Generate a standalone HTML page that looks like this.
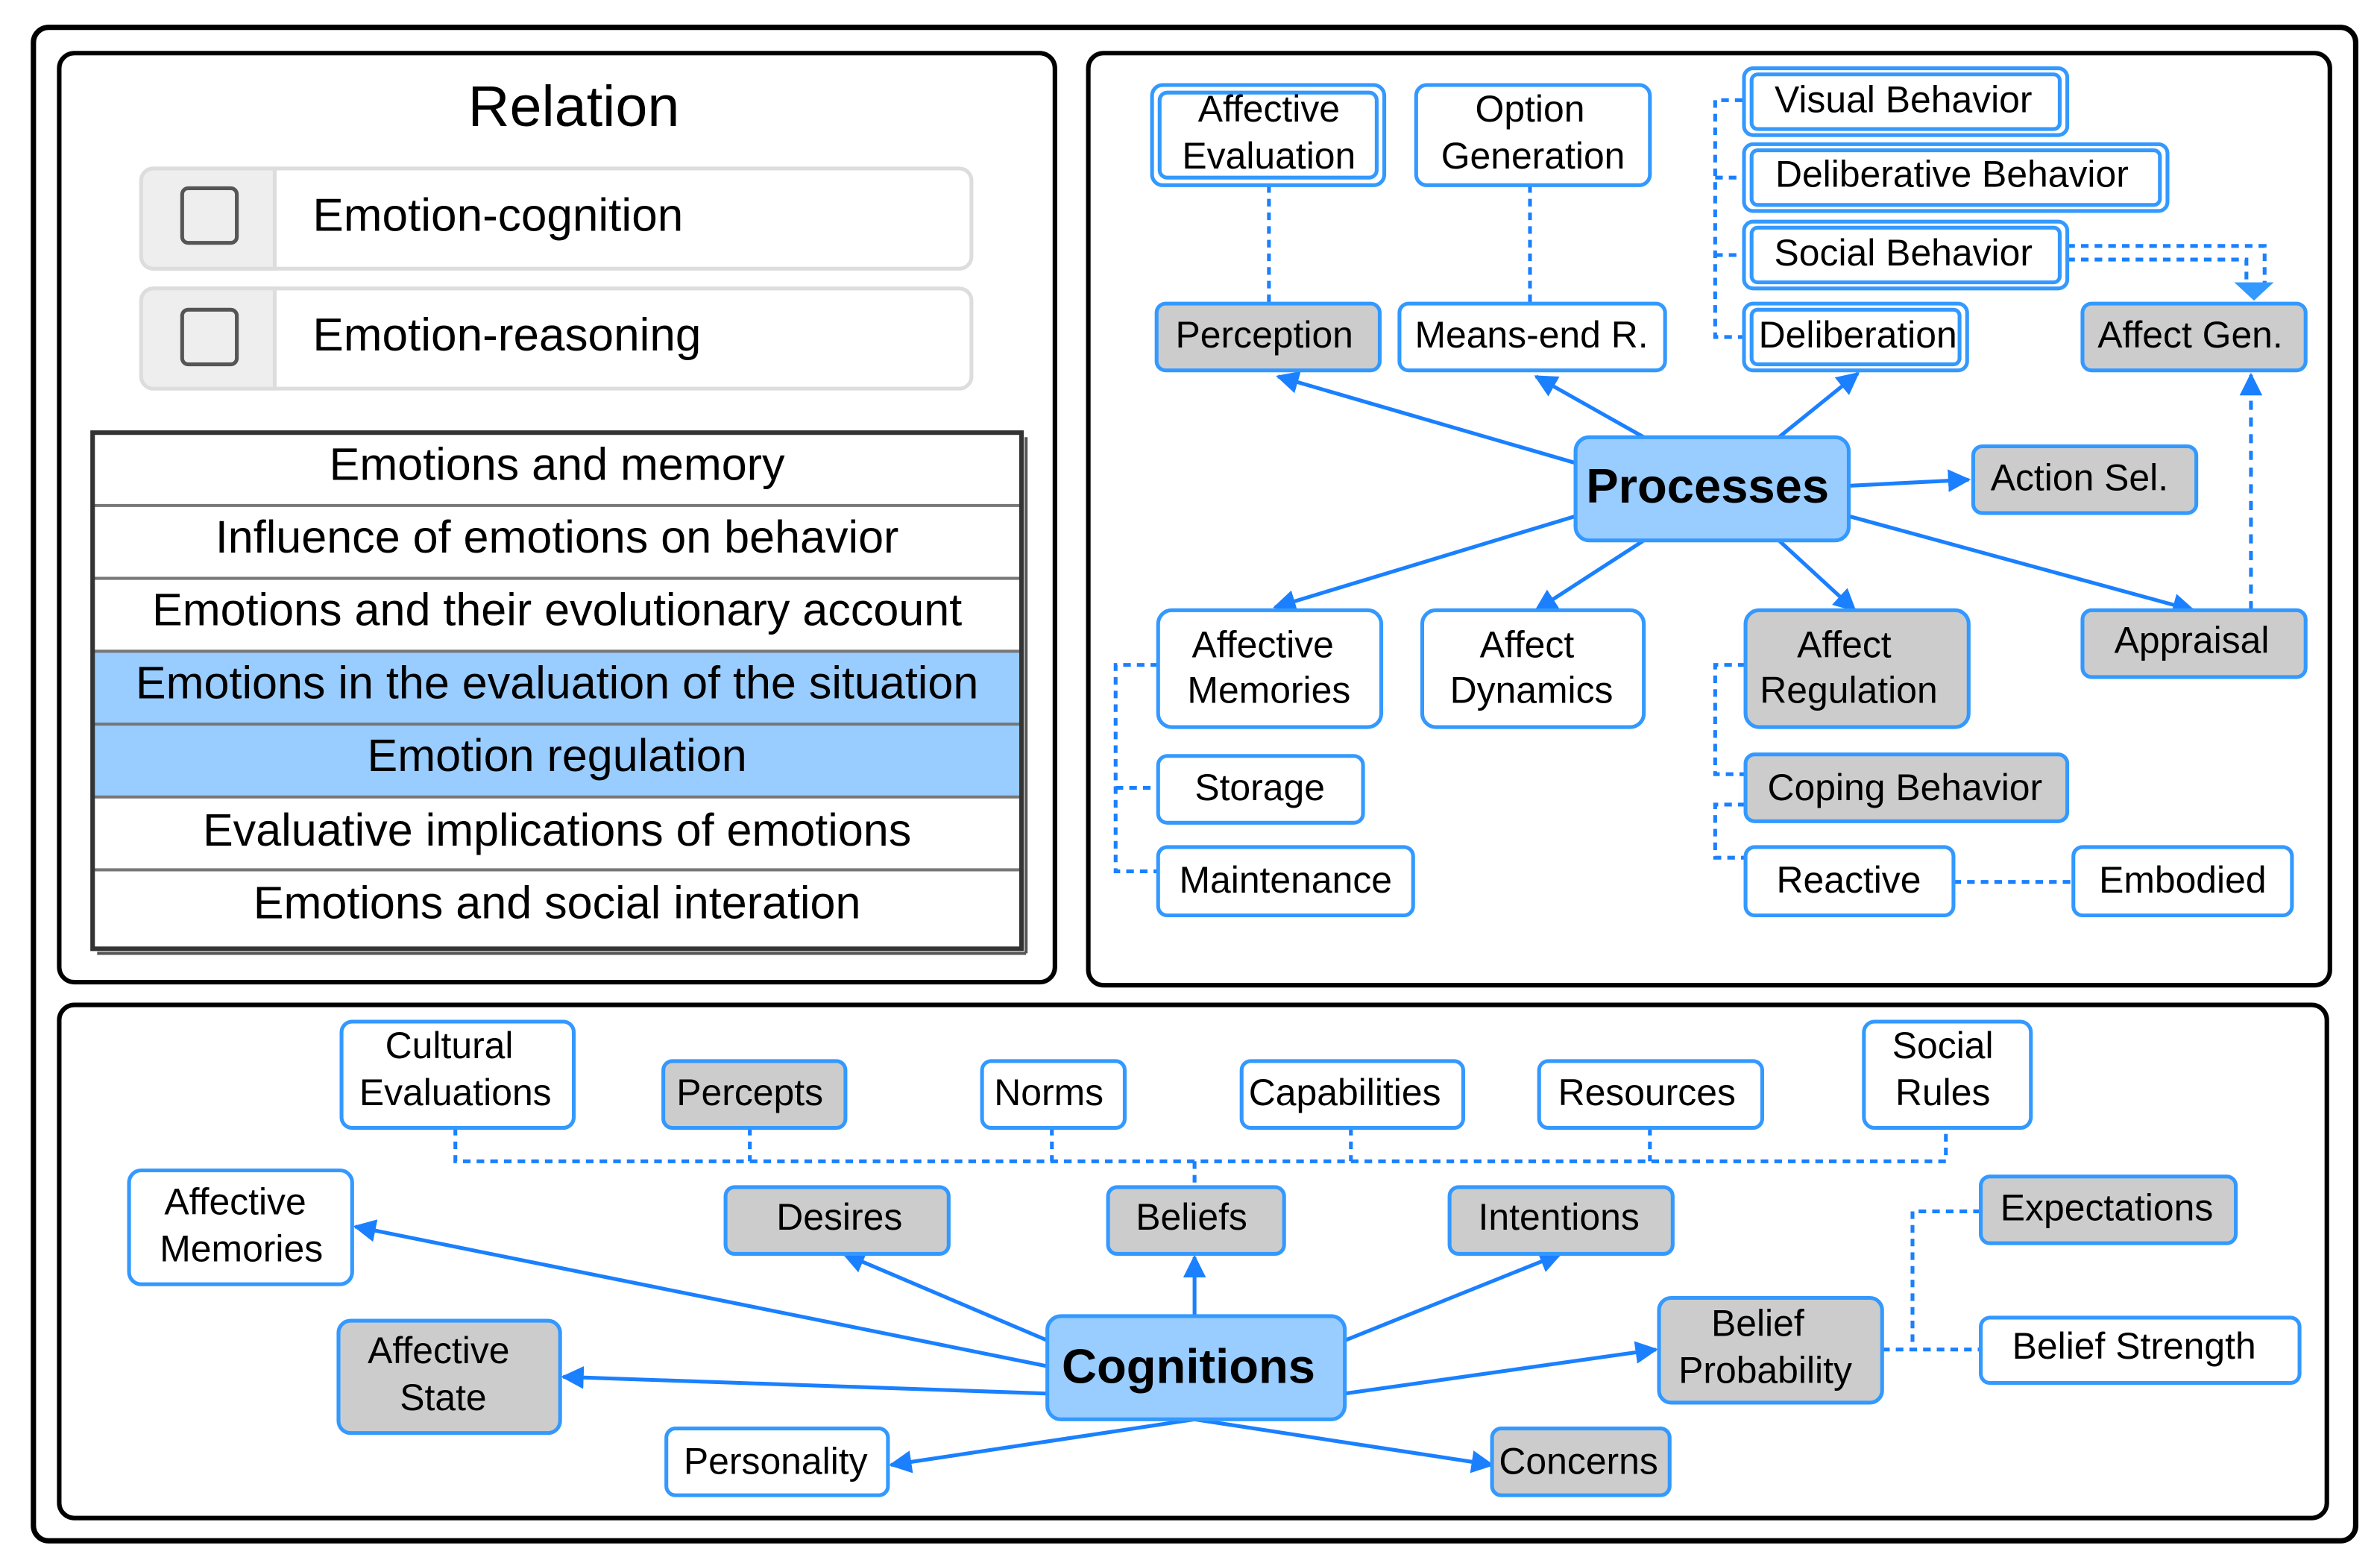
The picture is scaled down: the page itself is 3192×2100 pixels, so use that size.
<!DOCTYPE html>
<html><head><meta charset="utf-8"><style>html,body{margin:0;padding:0;background:#fff}svg{display:block}</style></head><body>
<svg xmlns="http://www.w3.org/2000/svg" width="3192" height="2100" viewBox="0 0 1568 1031.6" font-family="Liberation Sans, sans-serif">
<defs>
<marker id="a" viewBox="0 0 10 10" refX="9" refY="5" markerWidth="6" markerHeight="6" orient="auto-start-reverse"><path d="M0,0L10,5L0,10z" fill="#1a80ff"/></marker>
</defs>
<rect width="1568" height="1031.6" fill="#fff"/>
<rect x="22" y="18" width="1530" height="997" rx="10" fill="none" stroke="#000" stroke-width="3.5"/>
<rect x="39" y="35" width="656" height="612" rx="10" fill="none" stroke="#000" stroke-width="3"/>
<rect x="717" y="35" width="818" height="614" rx="10" fill="none" stroke="#000" stroke-width="3"/>
<rect x="39" y="662" width="1494" height="338" rx="10" fill="none" stroke="#000" stroke-width="3"/>

<!-- Left panel -->
<text x="378" y="83" font-size="38" text-anchor="middle">Relation</text>
<g stroke="#ddd" stroke-width="2.5">
<rect x="93" y="111" width="547" height="66" rx="8" fill="#fff"/>
<path d="M181,111H101a8,8 0 0 0-8,8V169a8,8 0 0 0 8,8H181z" fill="#eee"/>
<rect x="93" y="190" width="547" height="66" rx="8" fill="#fff"/>
<path d="M181,190H101a8,8 0 0 0-8,8V248a8,8 0 0 0 8,8H181z" fill="#eee"/>
</g>
<rect x="120" y="124" width="36" height="36" rx="4" fill="none" stroke="#555" stroke-width="2.5"/>
<rect x="120" y="204" width="36" height="36" rx="4" fill="none" stroke="#555" stroke-width="2.5"/>
<text x="206" y="152" font-size="30.5">Emotion-cognition</text>
<text x="206" y="231" font-size="30.5">Emotion-reasoning</text>

<rect x="61" y="429" width="612" height="48" fill="#99ccff"/>
<rect x="61" y="477" width="612" height="48" fill="#99ccff"/>
<g stroke="#777" stroke-width="2">
<line x1="61" y1="333" x2="673" y2="333"/><line x1="61" y1="381" x2="673" y2="381"/><line x1="61" y1="429" x2="673" y2="429"/><line x1="61" y1="477" x2="673" y2="477"/><line x1="61" y1="525" x2="673" y2="525"/><line x1="61" y1="573" x2="673" y2="573"/>
</g>
<rect x="61" y="285" width="612" height="340" fill="none" stroke="#333" stroke-width="3"/>
<line x1="676" y1="288" x2="676" y2="628" stroke="#555" stroke-width="2"/>
<line x1="64" y1="628" x2="676" y2="628" stroke="#555" stroke-width="2"/>
<g font-size="30" text-anchor="middle">
<text x="367" y="316">Emotions and memory</text>
<text x="367" y="364">Influence of emotions on behavior</text>
<text x="367" y="412">Emotions and their evolutionary account</text>
<text x="367" y="460">Emotions in the evaluation of the situation</text>
<text x="367" y="508">Emotion regulation</text>
<text x="367" y="557">Evaluative implications of emotions</text>
<text x="367" y="605">Emotions and social interation</text>
</g>

<!-- Right panel edges -->
<g stroke="#1a80ff" stroke-width="2.5" fill="none" marker-end="url(#a)">
<line x1="1038" y1="305" x2="842" y2="248"/>
<line x1="1083" y1="288" x2="1012" y2="248"/>
<line x1="1172" y1="288" x2="1224" y2="246"/>
<line x1="1218" y1="320" x2="1297" y2="316"/>
<line x1="1038" y1="340" x2="840" y2="400"/>
<line x1="1083" y1="356" x2="1012" y2="402"/>
<line x1="1172" y1="356" x2="1222" y2="402"/>
<line x1="1218" y1="340" x2="1445" y2="402"/>
<line x1="1483" y1="402" x2="1483" y2="247" stroke-dasharray="6,5"/>
</g>
<g stroke="#1a80ff" stroke-width="2.5" fill="none" stroke-dasharray="5,4">
<line x1="836" y1="122" x2="836" y2="200"/>
<line x1="1008" y1="122" x2="1008" y2="200"/>
<path d="M1148,66H1130V222H1148M1130,117H1148M1130,168H1148"/>
<path d="M1362,162H1492V190M1362,171H1480V190"/>
<path d="M763,438H735V574H763M735,519H763"/>
<path d="M1150,438H1130V510H1150M1150,530H1130V565H1150"/>
<line x1="1287" y1="581" x2="1366" y2="581"/>
</g>
<path d="M1472,186L1498,186L1485,198z" fill="#3399ff"/>

<!-- Right panel nodes -->
<g stroke="#3399ff" stroke-width="2.5">
<rect x="759" y="56" width="153" height="66" rx="7" fill="#fff"/><rect x="764" y="61" width="143" height="56" rx="5" fill="none"/>
<rect x="933" y="56" width="154" height="66" rx="7" fill="#fff"/>
<rect x="1149" y="45" width="213" height="44" rx="6" fill="#fff"/><rect x="1154" y="49" width="203" height="36" rx="4" fill="none"/>
<rect x="1149" y="95" width="279" height="44" rx="6" fill="#fff"/><rect x="1154" y="99" width="269" height="36" rx="4" fill="none"/>
<rect x="1149" y="146" width="213" height="44" rx="6" fill="#fff"/><rect x="1154" y="150" width="203" height="36" rx="4" fill="none"/>
<rect x="1149" y="200" width="147" height="44" rx="6" fill="#fff"/><rect x="1154" y="204" width="137" height="36" rx="4" fill="none"/>
<rect x="762" y="200" width="147" height="44" rx="6" fill="#ccc"/>
<rect x="922" y="200" width="175" height="44" rx="6" fill="#fff"/>
<rect x="1372" y="200" width="147" height="44" rx="6" fill="#ccc"/>
<rect x="1038" y="288" width="180" height="68" rx="9" fill="#99ccff"/>
<rect x="1300" y="294" width="147" height="44" rx="6" fill="#ccc"/>
<rect x="763" y="402" width="147" height="77" rx="9" fill="#fff"/>
<rect x="937" y="402" width="146" height="77" rx="9" fill="#fff"/>
<rect x="1150" y="402" width="147" height="77" rx="9" fill="#ccc"/>
<rect x="1372" y="402" width="147" height="44" rx="6" fill="#ccc"/>
<rect x="763" y="498" width="135" height="44" rx="6" fill="#fff"/>
<rect x="1150" y="497" width="212" height="44" rx="6" fill="#ccc"/>
<rect x="763" y="558" width="168" height="45" rx="6" fill="#fff"/>
<rect x="1150" y="558" width="137" height="45" rx="6" fill="#fff"/>
<rect x="1366" y="558" width="144" height="45" rx="6" fill="#fff"/>
</g>
<g font-size="24.5" text-anchor="middle">
<text x="836" y="80">Affective</text><text x="836" y="111">Evaluation</text>
<text x="1008" y="80">Option</text><text x="1010" y="111">Generation</text>
<text x="1254" y="74">Visual Behavior</text>
<text x="1286" y="123">Deliberative Behavior</text>
<text x="1254" y="175">Social Behavior</text>
<text x="1224" y="229">Deliberation</text>
<text x="833" y="229">Perception</text>
<text x="1009" y="229">Means-end R.</text>
<text x="1443" y="229">Affect Gen.</text>
<text x="1125" y="331" font-size="32" font-weight="bold">Processes</text>
<text x="1370" y="323">Action Sel.</text>
<text x="832" y="433">Affective</text><text x="836" y="463">Memories</text>
<text x="1006" y="433">Affect</text><text x="1009" y="463">Dynamics</text>
<text x="1215" y="433">Affect</text><text x="1218" y="463">Regulation</text>
<text x="1444" y="430">Appraisal</text>
<text x="830" y="527">Storage</text>
<text x="1255" y="527">Coping Behavior</text>
<text x="847" y="588">Maintenance</text>
<text x="1218" y="588">Reactive</text>
<text x="1438" y="588">Embodied</text>
</g>

<!-- Bottom panel edges -->
<g stroke="#1a80ff" stroke-width="2.5" fill="none" stroke-dasharray="5,4">
<path d="M300,743V765H1282V743M494,743V765M693,743V765M890,743V765M1087,743V765M787,765V782"/>
<path d="M1305,798H1260V889M1240,889H1305"/>
</g>
<g stroke="#1a80ff" stroke-width="2.5" fill="none" marker-end="url(#a)">
<line x1="690" y1="900" x2="234" y2="808"/>
<line x1="690" y1="883" x2="556" y2="826"/>
<line x1="787" y1="867" x2="787" y2="828"/>
<line x1="886" y1="883" x2="1028" y2="826"/>
<line x1="690" y1="918" x2="371" y2="907"/>
<line x1="886" y1="918" x2="1091" y2="889"/>
<line x1="787" y1="935" x2="587" y2="965"/>
<line x1="787" y1="935" x2="983" y2="965"/>
</g>
<g stroke="#3399ff" stroke-width="2.5">
<rect x="225" y="673" width="153" height="70" rx="7" fill="#fff"/>
<rect x="437" y="699" width="120" height="44" rx="6" fill="#ccc"/>
<rect x="647" y="699" width="94" height="44" rx="6" fill="#fff"/>
<rect x="818" y="699" width="146" height="44" rx="6" fill="#fff"/>
<rect x="1014" y="699" width="147" height="44" rx="6" fill="#fff"/>
<rect x="1228" y="673" width="110" height="70" rx="7" fill="#fff"/>
<rect x="85" y="771" width="147" height="75" rx="8" fill="#fff"/>
<rect x="478" y="782" width="147" height="44" rx="6" fill="#ccc"/>
<rect x="730" y="782" width="116" height="44" rx="6" fill="#ccc"/>
<rect x="955" y="782" width="147" height="44" rx="6" fill="#ccc"/>
<rect x="1305" y="775" width="168" height="44" rx="6" fill="#ccc"/>
<rect x="223" y="870" width="146" height="74" rx="8" fill="#ccc"/>
<rect x="690" y="867" width="196" height="68" rx="9" fill="#99ccff"/>
<rect x="1093" y="855" width="147" height="69" rx="8" fill="#ccc"/>
<rect x="1305" y="868" width="210" height="43" rx="6" fill="#fff"/>
<rect x="439" y="941" width="146" height="44" rx="6" fill="#fff"/>
<rect x="983" y="941" width="117" height="44" rx="6" fill="#ccc"/>
</g>
<g font-size="24.5" text-anchor="middle">
<text x="296" y="697">Cultural</text><text x="300" y="728">Evaluations</text>
<text x="494" y="728">Percepts</text>
<text x="691" y="728">Norms</text>
<text x="886" y="728">Capabilities</text>
<text x="1085" y="728">Resources</text>
<text x="1280" y="697">Social</text><text x="1280" y="728">Rules</text>
<text x="155" y="800">Affective</text><text x="159" y="831">Memories</text>
<text x="553" y="810">Desires</text>
<text x="785" y="810">Beliefs</text>
<text x="1027" y="810">Intentions</text>
<text x="1388" y="804">Expectations</text>
<text x="289" y="898">Affective</text><text x="292" y="929">State</text>
<text x="783" y="911" font-size="32" font-weight="bold">Cognitions</text>
<text x="1158" y="880">Belief</text><text x="1163" y="911">Probability</text>
<text x="1406" y="895">Belief Strength</text>
<text x="511" y="971">Personality</text>
<text x="1040" y="971">Concerns</text>
</g>
</svg>
</body></html>
